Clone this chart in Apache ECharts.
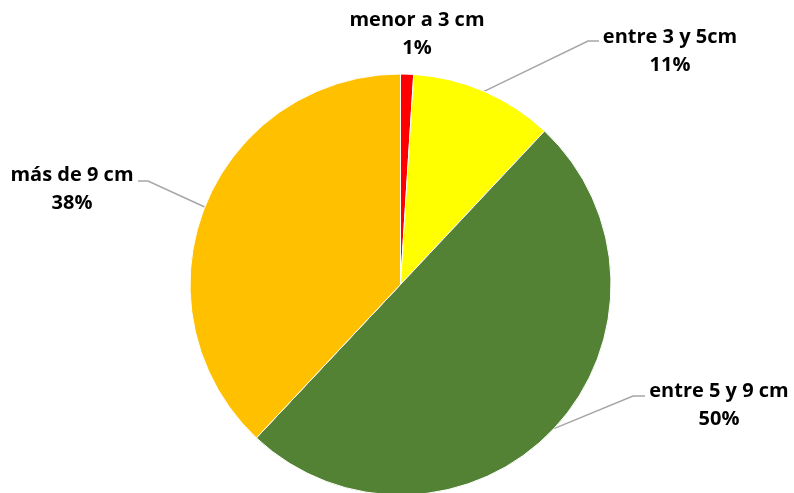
<!DOCTYPE html>
<html>
<head>
<meta charset="utf-8">
<script src="https://cdn.jsdelivr.net/npm/echarts@6/dist/echarts.min.js"></script>
<style>
html,body{margin:0;padding:0;background:#fff;}
#main{width:794px;height:493px;}
</style>
</head>
<body>
<div id="main"></div>
<script>
var categories = ['menor a 3 cm', 'entre 3 y 5cm', 'entre 5 y 9 cm', 'más de 9 cm']
var values = [1, 11, 50, 38]
var colors = ['#FF0000', '#FFFF00', '#548235', '#FFC000']

// label anchor (centre of text block) and elbow of the leader line
var labelPos = [
	{x: 417, y: 34, line: false},
	{x: 670, y: 51, elbow: [588, 41], end: [599, 41]},
	{x: 719, y: 405, elbow: [633, 396], end: [645, 396]},
	{x: 72, y: 189, elbow: [148, 181], end: [138, 181]}
]

var chart = echarts.init(document.getElementById('main'))
var data = []
for(var i=0;i<categories.length;i++){
	data.push({
		name: categories[i],
		value: values[i],
		itemStyle: {color: colors[i]},
		labelLine: {show: labelPos[i].line !== false}
	})
}

option = {
	animation: false,
	series: [
		{
			type: 'pie',
			center: [400.5, 284.5],
			radius: 210.5,
			startAngle: 90,
			clockwise: true,
			itemStyle: {borderColor: '#fff', borderWidth: 1},
			label: {
				show: true,
				position: 'outside',
				formatter: '{b}\n{d}%',
				fontFamily: 'Open Sans',
				fontWeight: 'bold',
				fontSize: 20,
				lineHeight: 28,
				color: '#000',
				align: 'center'
			},
			labelLine: {
				show: true,
				lineStyle: {color: '#A6A6A6', width: 1.5}
			},
			labelLayout: function(params){
				var p = labelPos[params.dataIndex]
				var res = {x: p.x, y: p.y, align: 'center', verticalAlign: 'middle'}
				if(p.elbow && params.labelLinePoints){
					res.labelLinePoints = [params.labelLinePoints[0], p.elbow, p.end]
				}
				return res
			},
			data: data
		}
	]
}
chart.setOption(option)
</script>
</body>
</html>
